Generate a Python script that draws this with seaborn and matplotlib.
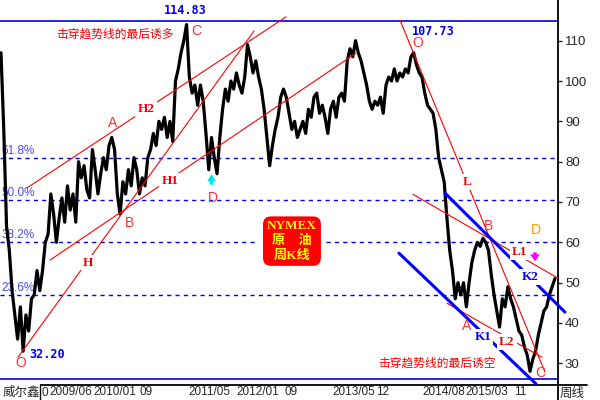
import matplotlib
matplotlib.use("Agg")
import matplotlib.pyplot as plt
import seaborn as sns
from matplotlib.patches import Rectangle
from matplotlib.lines import Line2D
import matplotlib.transforms as mtransforms

close = [
    107, 88, 64, 58, 48, 42, 36, 44, 33, 42,
    38, 46, 47, 53, 48, 53, 60, 62, 72, 67,
    60, 66, 71, 65, 74, 68, 72, 65, 80, 76,
    79, 73, 71, 83, 78, 72, 77, 81, 78, 84,
    86, 83, 72, 67, 75, 72, 78, 74, 81, 78,
    72, 76, 74, 81, 83, 87, 84, 90, 88, 91,
    86, 90, 85, 100, 103, 107, 110, 114, 101, 97,
    99, 94, 99, 95, 87, 78, 86, 81, 77, 86,
    93, 98, 95, 100, 98, 102, 99, 97, 101, 109,
    106, 102, 105, 101, 98, 93, 86, 79, 84, 88,
    91, 96, 98, 96, 92, 88, 90, 86, 88, 90,
    87, 93, 91, 96, 97, 92, 94, 91, 87, 93,
    95, 91, 96, 97, 95, 105, 108, 106, 110, 107,
    105, 102, 99, 95, 93, 95, 94, 96, 92, 99,
    101, 100, 103, 100, 102, 101, 103, 102, 106, 107,
    104, 102, 101, 97, 94, 93, 92, 88, 81, 78,
    75, 66, 58, 53, 46, 50, 47, 50, 44, 50,
    55, 58, 60, 59, 61, 60, 58, 52, 47, 43,
    39, 46, 44, 49, 46, 44, 41, 38, 37, 34,
    32, 28, 31, 33, 37, 40, 43, 44, 47, 49,
    51,
]
week = [2 * i for i in range(len(close))]

top_price = 114.83
low_price = 26.05
fib_ratio = [0.618, 0.5, 0.382, 0.236]
fib_label = ["61.8%", "50.0%", "38.2%", "23.6%"]

tick_week = [34.7, 66.4, 99.6, 135.0, 169.7, 204.3, 239.0, 270.0, 304.0, 335.0, 369.7]
tick_label = ["2009/06", "2010/01", "09", "2011/05", "2012/01", "09",
              "2013/05", "12", "2014/08", "2015/03", "11"]

# trend lines (week, price)
red_lines = [
    [(18.8, 73.5), (205.8, 115.9)],    # H2
    [(12.3, 31.5), (182.7, 112.4)],    # H
    [(35.4, 55.6), (256.3, 106.9)],    # H1
    [(288.1, 115.1), (392.8, 27.8)],   # L
    [(297.5, 71.9), (402.2, 51.1)],    # L1
    [(322.0, 44.9), (390.6, 31.5)],    # L2
]
blue_lines = [
    [(287.4, 57.3), (386.3, 24.9)],    # K1
    [(320.6, 72.2), (407.2, 42.7)],    # K2
]

# wave letters
letters = [("O", 14.4, 30.1), ("A", 80.9, 89.6), ("B", 93.1, 64.8), ("C", 140.8, 112.4),
           ("D", 153.1, 71.0), ("O", 301.1, 109.4), ("A", 336.5, 39.3), ("B", 352.3, 64.0),
           ("C", 389.2, 27.6)]
line_names = [("H2", 104.7, 93.1), ("H1", 122.0, 75.2), ("H", 62.8, 54.9),
              ("L", 336.5, 75.0), ("L1", 374.7, 57.6), ("L2", 365.3, 35.3)]
k_names = [("K1", 348.0, 36.5), ("K2", 381.9, 51.4)]
price_marks = [("114.83", 132.9, 117.4), ("107.73", 311.9, 112.4), ("32.20", 33.2, 32.3)]

sns.set_style("white")
plt.rcParams["font.family"] = ["Liberation Sans", "Noto Sans CJK SC", "DejaVu Sans"]
cjk = ["Noto Sans CJK SC", "DejaVu Sans"]

fig = plt.figure(figsize=(6, 4), dpi=100)
ax = fig.add_axes([0, 15 / 400, 558 / 600, 385 / 400])
ax.set_xlim(-0.72, 402.2)
ax.set_ylim(24.62, 120.09)

# fibonacci retracement levels
for r, lab in zip(fib_ratio, fib_label):
    lvl = low_price + r * (top_price - low_price)
    if lab == "38.2%":
        ax.plot([-1, 184], [lvl, lvl], ls=(0, (3, 3)), color="#0000ee", lw=1)
        ax.plot([235, 403], [lvl, lvl], ls=(0, (3, 3)), color="#0000ee", lw=1)
    else:
        ax.axhline(lvl, ls=(0, (3, 3)), color="#0000ee", lw=1)
    ax.text(0.2, lvl + 0.3, lab, color="#4848ff", fontsize=8.5, va="bottom", ha="left")
ax.axhline(top_price, color="#0000dd", lw=1.2)
ax.axhline(low_price, color="#0000dd", lw=1.2)

sns.lineplot(x=week, y=close, ax=ax, color="black", linewidth=2.3, estimator=None, zorder=3)

for seg in red_lines:
    ax.plot([seg[0][0], seg[1][0]], [seg[0][1], seg[1][1]], color="#ff0000", lw=0.8, zorder=4)
for seg in blue_lines:
    ax.plot([seg[0][0], seg[1][0]], [seg[0][1], seg[1][1]], color="#0000ff", lw=2.2,
            zorder=4, clip_on=False)

for t, x, y in letters:
    ax.text(x, y, t, color="#ff3030", fontsize=10, ha="center", va="center", zorder=6)
ax.text(386.3, 63.0, "D", color="#ff9900", fontsize=10, ha="center", va="center", zorder=6)

for t, x, y in line_names:
    ax.text(x, y, t, color="#ee0000", fontsize=9.5, fontweight="bold", family="Liberation Serif",
            ha="center", va="center", zorder=6,
            bbox=dict(facecolor="white", edgecolor="none", pad=1.5))
for t, x, y in k_names:
    ax.text(x, y, t, color="#0000ee", fontsize=9.5, fontweight="bold", family="Liberation Serif",
            ha="center", va="center", zorder=6,
            bbox=dict(facecolor="white", edgecolor="none", pad=1.5))
for t, x, y in price_marks:
    ax.text(x, y, t, color="#0000ee", fontsize=8.5, fontweight="bold", family="DejaVu Sans Mono",
            ha="center", va="center", zorder=6)

ax.text(82.3, 111.7, "击穿趋势线的最后诱多", color="#ff0000", fontsize=8.5, family=cjk,
        ha="center", va="center")
ax.text(314.8, 30.1, "击穿趋势线的最后诱空", color="#ff0000", fontsize=8.5, family=cjk,
        ha="center", va="center")

ax.text(210.1, 60.3, "NYMEX\n原　油\n周K线", color="#ffff00", fontsize=9.5, fontweight="bold",
        family=["Liberation Serif", "Noto Sans CJK SC"], ha="center", va="center",
        linespacing=1.3, zorder=7,
        bbox=dict(boxstyle="round,pad=0.3,rounding_size=0.6", facecolor="#ff0000",
                  edgecolor="none"))

ax.annotate("", xy=(152.0, 77.6), xytext=(152.0, 73.6),
            arrowprops=dict(arrowstyle="simple,head_width=0.6,head_length=0.5,tail_width=0.25",
                            color="#00e5e5", lw=0))
ax.annotate("", xy=(385.6, 54.6), xytext=(385.6, 58.2),
            arrowprops=dict(arrowstyle="simple,head_width=0.7,head_length=0.5,tail_width=0.25",
                            color="#ff00ff", lw=0))

# axes styling
for s in ["left", "top"]:
    ax.spines[s].set_visible(False)
ax.spines["right"].set_color("black")
ax.spines["right"].set_linewidth(1.3)
ax.spines["bottom"].set_color("black")
ax.spines["bottom"].set_linewidth(1.3)
ax.yaxis.tick_right()
ax.set_yticks(range(30, 111, 10))
ax.tick_params(axis="y", direction="out", length=3, width=1, labelsize=9.5, pad=2)
ax.set_xticks(tick_week)
ax.set_xticklabels([])
ax.tick_params(axis="x", direction="out", length=11, width=1, color="black")
ax.grid(False)

trans = mtransforms.blended_transform_factory(ax.transData, ax.transAxes)
for w, lab in zip(tick_week, tick_label):
    ax.text(w + 0.6, -0.019, lab, fontsize=8.5, ha="left", va="center", transform=trans,
            clip_on=False)

# bottom-left caption and right corner
fig.patches.append(Rectangle((0, 0), 40 / 600, 16 / 400, transform=fig.transFigure,
                             facecolor="white", edgecolor="none", zorder=10))
fig.lines.append(Line2D([40 / 600, 40 / 600], [0, 15 / 400], transform=fig.transFigure,
                        color="black", lw=1, zorder=11))
fig.text(3 / 600, 8 / 400, "威尔鑫", fontsize=9, family=cjk, va="center", ha="left", zorder=12)
fig.text(41.5 / 600, 7 / 400, "0", fontsize=8.5, va="center", ha="left")
fig.lines.append(Line2D([558 / 600, 558 / 600], [0, 15 / 400], transform=fig.transFigure,
                        color="black", lw=1.3))
fig.lines.append(Line2D([558 / 600, 587 / 600], [15 / 400, 15 / 400], transform=fig.transFigure,
                        color="black", lw=1.3))
fig.text(560 / 600, 7 / 400, "周线", fontsize=9, family=cjk, va="center", ha="left")

fig.savefig("out.png", dpi=100)
